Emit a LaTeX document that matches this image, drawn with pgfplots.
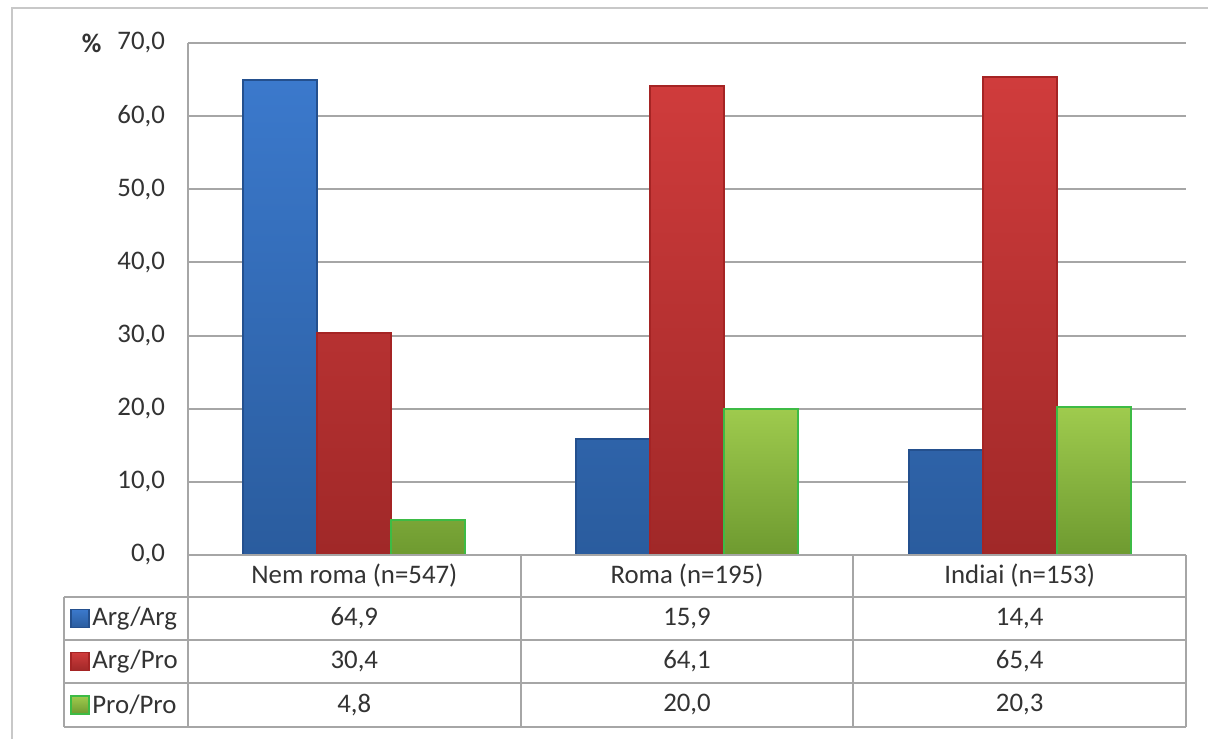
\documentclass[border=0pt]{standalone}
\usepackage{fontspec}
\setmainfont{Carlito}
\usepackage{pgfplots}
\pgfplotsset{compat=1.18}

\definecolor{gridgray}{HTML}{A6A6A6}
\definecolor{framegray}{HTML}{C8C8C8}
\definecolor{txt}{HTML}{333333}
\definecolor{bluetop}{HTML}{3B79CC}
\definecolor{bluebot}{HTML}{2A5C9E}
\definecolor{blueedge}{HTML}{24508E}
\definecolor{redtop}{HTML}{D03C3C}
\definecolor{redbot}{HTML}{A02828}
\definecolor{rededge}{HTML}{A52424}
\definecolor{greentop}{HTML}{9FCB4E}
\definecolor{greenbot}{HTML}{6E9A30}
\definecolor{greenedge}{HTML}{3DBB45}

\begin{document}
\begin{tikzpicture}
\useasboundingbox (-94pt,-91.5pt) rectangle (510pt,277.5pt);
\fill[white] (-94pt,-91.5pt) rectangle (510pt,277.5pt);
\draw[framegray, line width=1.2pt] (-88pt,-95pt) -- (-88pt,273.5pt) -- (515pt,273.5pt);

\begin{axis}[
    at={(0,0)}, anchor=south west,
    scale only axis,
    width=499pt, height=256pt,
    xmin=-0.5, xmax=2.5,
    ymin=0, ymax=70,
    ytick={0,10,...,70},
    xtick=\empty,
    axis x line=none,
    axis y line*=left,
    axis line style={gridgray, line width=1pt, -},
    ymajorgrids,
    grid style={gridgray, line width=1pt},
    major tick length=0pt,
    yticklabel style={font=\fontsize{13.4}{15}\selectfont, text=txt, anchor=east, xshift=-8pt,
        /pgf/number format/use comma, /pgf/number format/fixed,
        /pgf/number format/fixed zerofill, /pgf/number format/precision=1,
        /pgf/number format/assume math mode=true},
    clip=false,
]
% bars
\addplot[ybar, bar width=37pt, bar shift=-37pt, draw=blueedge, line width=1pt,
    top color=bluetop, bottom color=bluebot]
    coordinates {(0,64.9) (1,15.9) (2,14.4)};
\addplot[ybar, bar width=37pt, bar shift=0pt, draw=rededge, line width=1pt,
    top color=redtop, bottom color=redbot]
    coordinates {(0,30.4) (1,64.1) (2,65.4)};
\addplot[ybar, bar width=37pt, bar shift=37pt, draw=greenedge, line width=1pt,
    top color=greentop, bottom color=greenbot]
    coordinates {(0,4.8) (1,20.0) (2,20.3)};

% percent sign
\node[font=\fontsize{13.4}{15}\selectfont\bfseries, text=txt] at (axis cs:-0.79,70) {\%};

% data table grid
\draw[gridgray, line width=1pt] (axis cs:-0.5,0) -- (axis cs:2.5,0);
\draw[gridgray, line width=1pt] (axis cs:-0.873,-5.74) -- (axis cs:2.5,-5.74);
\draw[gridgray, line width=1pt] (axis cs:-0.873,-11.62) -- (axis cs:2.5,-11.62);
\draw[gridgray, line width=1pt] (axis cs:-0.873,-17.5) -- (axis cs:2.5,-17.5);
\draw[gridgray, line width=1pt] (axis cs:-0.873,-23.5) -- (axis cs:2.5,-23.5);
\draw[gridgray, line width=1pt] (axis cs:-0.873,-5.74) -- (axis cs:-0.873,-23.5);
\draw[gridgray, line width=1pt] (axis cs:-0.5,0) -- (axis cs:-0.5,-23.5);
\draw[gridgray, line width=1pt] (axis cs:0.5,0) -- (axis cs:0.5,-23.5);
\draw[gridgray, line width=1pt] (axis cs:1.5,0) -- (axis cs:1.5,-23.5);
\draw[gridgray, line width=1pt] (axis cs:2.5,0) -- (axis cs:2.5,-23.5);

% header row
\begin{scope}[every node/.style={font=\fontsize{13.4}{15}\selectfont, text=txt}]
\node at (axis cs:0,-2.87) {Nem roma (n=547)};
\node at (axis cs:1,-2.87) {Roma (n=195)};
\node at (axis cs:2,-2.87) {Indiai (n=153)};

% row labels with keys
\node[anchor=west, inner xsep=0pt] at (axis cs:-0.7886,-8.68) {Arg/Arg};
\node[anchor=west, inner xsep=0pt] at (axis cs:-0.7886,-14.56) {Arg/Pro};
\node[anchor=west, inner xsep=0pt] at (axis cs:-0.7886,-20.5) {Pro/Pro};

% values
\node at (axis cs:0,-8.68) {64,9};
\node at (axis cs:1,-8.68) {15,9};
\node at (axis cs:2,-8.68) {14,4};
\node at (axis cs:0,-14.56) {30,4};
\node at (axis cs:1,-14.56) {64,1};
\node at (axis cs:2,-14.56) {65,4};
\node at (axis cs:0,-20.5) {4,8};
\node at (axis cs:1,-20.5) {20,0};
\node at (axis cs:2,-20.5) {20,3};
\end{scope}

\node[draw=blueedge, line width=0.6pt, top color=bluetop, bottom color=bluebot,
    minimum size=9pt, inner sep=0pt] at (axis cs:-0.8246,-8.68) {};
\node[draw=rededge, line width=0.6pt, top color=redtop, bottom color=redbot,
    minimum size=9pt, inner sep=0pt] at (axis cs:-0.8246,-14.56) {};
\node[draw=greenedge, line width=0.6pt, top color=greentop, bottom color=greenbot,
    minimum size=9pt, inner sep=0pt] at (axis cs:-0.8246,-20.5) {};
\end{axis}
\end{tikzpicture}
\end{document}
